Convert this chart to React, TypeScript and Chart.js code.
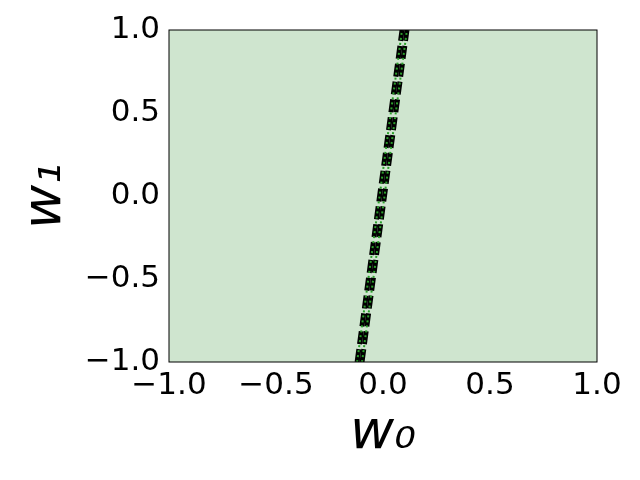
import { useEffect, useRef } from "react"
import { Chart, registerables } from "chart.js"

Chart.register(...registerables)

const tickValues = [-1.0, -0.5, 0.0, 0.5, 1.0]
const lineAx = [-0.121, 0.089]
const lineBx = [-0.098, 0.112]
const lineY = [-1, 1]

const fillPlot = {
  id: "fillPlot",
  beforeDraw(chart: Chart) {
    const { ctx, chartArea: a } = chart
    ctx.save()
    ctx.fillStyle = "#cfe5cf"
    ctx.fillRect(a.left, a.top, a.right - a.left, a.bottom - a.top)
    ctx.restore()
  },
  afterDraw(chart: Chart) {
    const { ctx, chartArea: a } = chart
    ctx.save()
    ctx.strokeStyle = "#000"
    ctx.lineWidth = 1
    ctx.strokeRect(a.left, a.top, a.right - a.left, a.bottom - a.top)
    ctx.restore()
  },
}

export default function App() {
  const ref = useRef<HTMLCanvasElement>(null)
  useEffect(() => {
    document.body.style.margin = "0"
    if (!ref.current) return
    const mk = (xs: number[], color: string, width: number, dash: number[]) => ({
      data: xs.map((x, i) => ({ x, y: lineY[i] })),
      borderColor: color,
      borderWidth: width,
      borderDash: dash,
      pointRadius: 0,
      showLine: true,
    })
    const tickFont = { family: "DejaVu Sans", size: 31 }
    const fmt = (v: any) => Number(v).toFixed(1).replace("-", "\u2212")
    const chart = new Chart(ref.current, {
      type: "scatter",
      data: {
        datasets: [
          mk(lineAx, "#2ca02c", 2, [2, 3]),
          mk(lineBx, "#2ca02c", 2, [2, 3]),
          mk(lineAx, "#000", 5, [13, 5]),
          mk(lineBx, "#000", 5, [13, 5]),
        ],
      },
      options: {
        animation: false,
        responsive: false,
        layout: { padding: { top: 30, right: 43, left: 14, bottom: 14 } },
        plugins: { legend: { display: false }, tooltip: { enabled: false } },
        scales: {
          x: {
            min: -1,
            max: 1,
            afterBuildTicks: (s: any) => { s.ticks = tickValues.map((v) => ({ value: v })) },
            afterFit: (s: any) => { s.height = 104 },
            grid: { display: false, drawTicks: true, tickLength: 5, tickColor: "#000" },
            border: { display: false },
            ticks: { color: "#000", font: tickFont, padding: 0, maxRotation: 0, callback: fmt },
            title: { display: true, text: "w\u2080", color: "#000", font: { family: "DejaVu Sans", size: 54, style: "italic" }, padding: 0 },
          },
          y: {
            min: -1,
            max: 1,
            afterBuildTicks: (s: any) => { s.ticks = tickValues.map((v) => ({ value: v })) },
            afterFit: (s: any) => { s.width = 155 },
            grid: { display: false, drawTicks: true, tickLength: 5, tickColor: "#000" },
            border: { display: false },
            ticks: { color: "#000", font: tickFont, padding: 4, callback: fmt },
            title: { display: true, text: "w\u2081", color: "#000", font: { family: "DejaVu Sans", size: 54, style: "italic" }, padding: 0 },
          },
        },
      },
      plugins: [fillPlot],
    })
    return () => chart.destroy()
  }, [])
  return <canvas ref={ref} width={640} height={480} />
}
